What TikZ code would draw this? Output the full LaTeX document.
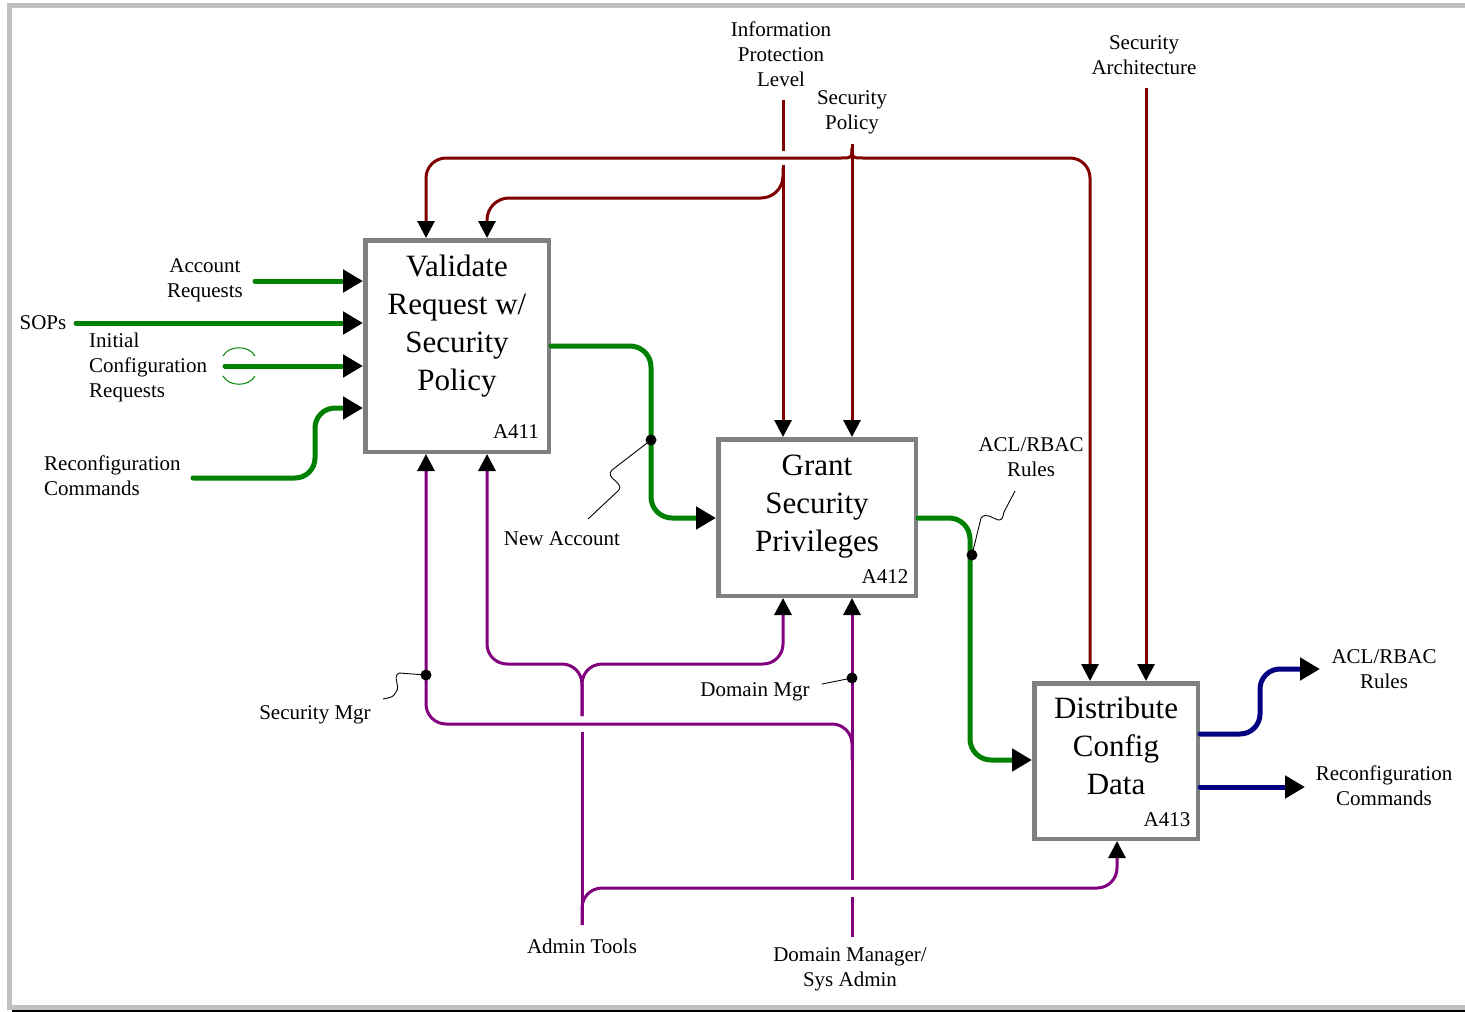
\documentclass[tikz,border=0pt]{standalone}
\usepackage{fontspec}
\setmainfont{Liberation Serif}
\usetikzlibrary{arrows.meta}
\definecolor{idefgreen}{RGB}{0,128,0}
\definecolor{idefred}{RGB}{128,0,0}
\definecolor{idefpurple}{RGB}{128,0,128}
\definecolor{idefnavy}{RGB}{0,0,128}
\definecolor{framegray}{RGB}{192,192,192}
\definecolor{boxgray}{RGB}{128,128,128}
\begin{document}
\begin{tikzpicture}[x=1pt,y=-1pt,
  box/.style={draw=boxgray, line width=4.5pt, fill=white, inner sep=0pt},
  boxtitle/.style={font=\fontsize{31}{38}\selectfont, align=center, inner sep=0pt},
  lbl/.style={font=\fontsize{21}{25}\selectfont, align=center, inner sep=0pt},
  bigtip/.style={-{Triangle[length=20pt,width=22pt,color=black]}},
  smalltip/.style={-{Triangle[length=17pt,width=17pt,color=black]}},
  inflow/.style={draw=idefgreen, line width=5pt, line cap=round},
  outflow/.style={draw=idefnavy, line width=5pt, line cap=round},
  ctrl/.style={draw=idefred, line width=3pt},
  mech/.style={draw=idefpurple, line width=3pt},
  leader/.style={draw=black, line width=0.9pt},
  tunnel/.style={draw=idefgreen, line width=1pt},
  dot/.style={fill=black}]
\useasboundingbox (0,0) rectangle (1465,1012);

% page frame
\fill[framegray] (7,3) rectangle (1465,8);
\fill[framegray] (7,3) rectangle (12,1010);
\fill[framegray] (7,1005) rectangle (1465,1010);
\draw[black, line width=1.5pt] (12,1011) -- (1465,1011);

% activity boxes
\node[box, minimum width=183.5pt, minimum height=211.5pt] (a411) at (457,346) {};
\node[box, minimum width=197.5pt, minimum height=156.5pt] (a412) at (817,517.5) {};
\node[box, minimum width=163.5pt, minimum height=155.5pt] (a413) at (1116,761) {};

\node[boxtitle] (t411) at (457,326) {Validate\\Request w/\\Security\\Policy};
\node[boxtitle] (t412) at (817,507) {Grant\\Security\\Privileges};
\node[boxtitle] (t413) at (1116,746) {Distribute\\Config\\Data};
\node[lbl] (n411) at (516,432) {A411};
\node[lbl] (n412) at (885,577) {A412};
\node[lbl] (n413) at (1167,820) {A413};

% inputs to A411
\coordinate (accIn) at (255,281);
\coordinate (sopIn) at (76,323);
\coordinate (initIn) at (225,366);
\coordinate (recIn) at (193,478);
\coordinate (recUp) at (315,408);
\draw[inflow, bigtip] (accIn) -- (accIn -| a411.west);
\draw[inflow, bigtip] (sopIn) -- (sopIn -| a411.west);
\draw[inflow, bigtip] (initIn) -- (initIn -| a411.west);
\draw[inflow, bigtip, rounded corners=20pt] (recIn) -- (315,478) -- (recUp) -- (recUp -| a411.west);
% tunnel mark on the initial configuration arrow
\draw[tunnel] (223,356) .. controls (229,345) and (249,345) .. (255,356);
\draw[tunnel] (223,376) .. controls (229,387) and (249,387) .. (255,376);

\node[lbl] (accLbl) at (205,280) {Account\\Requests};
\node[lbl] (sopLbl) at (43,323) {SOPs};
\node[lbl, align=left, anchor=west] (initLbl) at (89,367) {Initial\\Configuration\\Requests};
\node[lbl, align=left, anchor=west] (recLbl) at (44,476) {Reconfiguration\\Commands};

% A411 -> A412 -> A413
\coordinate (newAcc) at (651,346);
\coordinate (newAccIn) at (651,518);
\draw[inflow, bigtip, rounded corners=21pt] (a411.east |- newAcc) -- (newAcc) -- (newAccIn) -- (newAccIn -| a412.west);
\coordinate (aclMid) at (970,518);
\coordinate (aclIn) at (970,760);
\draw[inflow, bigtip, rounded corners=21pt] (a412.east |- aclMid) -- (aclMid) -- (aclIn) -- (aclIn -| a413.west);

% outputs of A413
\coordinate (aclOutA) at (1260,734);
\coordinate (aclOut) at (1320,669);
\coordinate (recOut) at (1305,787);
\draw[outflow, bigtip, rounded corners=20pt] (a413.east |- aclOutA) -- (aclOutA) -- (1260,669) -- (aclOut);
\draw[outflow, bigtip] (a413.east |- recOut) -- (recOut);
\node[lbl] (aclOutLbl) at (1384,669) {ACL/RBAC\\Rules};
\node[lbl] (recOutLbl) at (1384,786) {Reconfiguration\\Commands};

% controls
\coordinate (ipl) at (783,100);
\coordinate (iplBend) at (487,198);
\draw[ctrl] (ipl) -- (783,151);
\draw[ctrl, smalltip] (783,165) -- (ipl |- a412.north);
\draw[ctrl, smalltip, rounded corners=22pt] (783,168) -- (783,198) -- (iplBend) -- (iplBend |- a411.north);
\node[lbl] (iplLbl) at (781,54) {Information\\Protection\\Level};

\coordinate (sp) at (852,144);
\coordinate (spL) at (426,158);
\coordinate (spR) at (1090,158);
\draw[ctrl, smalltip] (sp) -- (sp |- a412.north);
\draw[ctrl, smalltip] (852,148) .. controls (852,158) .. (841,158) [rounded corners=20pt] -- (spL) -- (spL |- a411.north);
\draw[ctrl, smalltip] (852,148) .. controls (852,158) .. (863,158) [rounded corners=20pt] -- (spR) -- (spR |- a413.north);
\node[lbl] (spLbl) at (852,112) {Security\\Policy};

\coordinate (sa) at (1146,88);
\draw[ctrl, smalltip] (sa) -- (sa |- a413.north);
\node[lbl] (saLbl) at (1144,55) {Security\\Architecture};

% mechanisms
\coordinate (at) at (582,925);
\coordinate (atL) at (487,664);
\coordinate (atR) at (783,664);
\coordinate (atB) at (1117,888);
\draw[mech] (at) -- (582,732);
\draw[mech, smalltip, rounded corners=20pt] (582,716) -- (582,664) -- (atL) -- (atL |- a411.south);
\draw[mech, smalltip, rounded corners=20pt] (582,716) -- (582,664) -- (atR) -- (atR |- a412.south);
\draw[mech, smalltip, rounded corners=20pt] (at) -- (582,888) -- (atB) -- (atB |- a413.south);
\node[lbl] (atLbl) at (582,946) {Admin Tools};

\coordinate (dm) at (852,937);
\draw[mech] (dm) -- (852,897);
\draw[mech, smalltip] (852,880) -- (dm |- a412.south);
\node[lbl] (dmLbl) at (850,969) {Domain Manager/\\Sys Admin};

\coordinate (smL) at (426,724);
\draw[mech, smalltip, rounded corners=20pt] (852,760) -- (852,724) -- (smL) -- (smL |- a411.south);

% branch labels with leaders
\coordinate (smDot) at (426,675);
\coordinate (dmDot) at (852,678);
\coordinate (naDot) at (651,440);
\coordinate (aclDot) at (972,555);
\fill[dot] (smDot) circle[radius=5.5pt];
\fill[dot] (dmDot) circle[radius=5.5pt];
\fill[dot] (naDot) circle[radius=5.5pt];
\fill[dot] (aclDot) circle[radius=5.5pt];

\draw[leader] (smDot) -- (399,673) .. controls (392,677) and (401,686) .. (396,692) .. controls (393,697) .. (383,699);
\node[lbl] (smLbl) at (315,715) {Security Mgr};
\draw[leader] (dmDot) -- (822,684);
\node[lbl] (dmgLbl) at (755,692) {Domain Mgr};
\draw[leader] (naDot) -- (612,470) .. controls (604,478) and (624,482) .. (619,490) -- (588,519);
\node[lbl] (naLbl) at (562,539) {New Account};
\draw[leader] (aclDot) -- (981,518) .. controls (986,512) and (992,518) .. (998,520) .. controls (1003,521) and (1003,515) .. (1004,512) -- (1015,491);
\node[lbl] (aclLbl) at (1031,457) {ACL/RBAC\\Rules};
\end{tikzpicture}
\end{document}
